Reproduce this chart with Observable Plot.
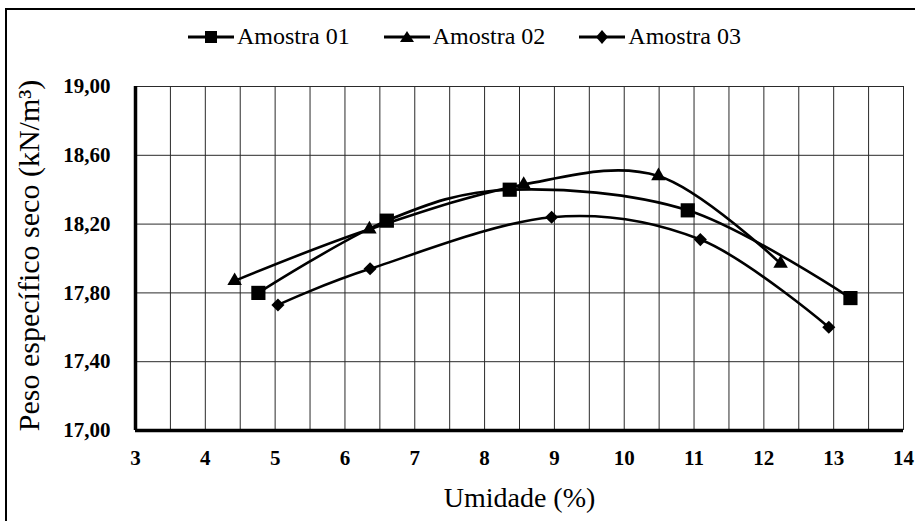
<!DOCTYPE html>
<html>
<head>
<meta charset="utf-8">
<script src="https://cdn.jsdelivr.net/npm/d3@7"></script>
<script src="https://cdn.jsdelivr.net/npm/@observablehq/plot@0.6"></script>
<style>
  html, body { margin: 0; padding: 0; background: #fff; }
  #wrap { position: relative; width: 915px; height: 521px; overflow: hidden; background: #fff;
          font-family: "Liberation Serif", Tinos, "Times New Roman", Times, "DejaVu Serif", serif; }
  #frame { position: absolute; left: 5px; top: 8px; width: 930px; height: 540px;
           border-left: 2px solid #000; border-top: 2px solid #000; }
  #legend { position: absolute; left: 188px; top: 23px; display: flex; gap: 34px; align-items: center;
            font-size: 24px; color: #000; white-space: nowrap; }
  .item { display: flex; align-items: center; }
  .item svg { display: block; margin-right: 3px; }
  #chart { position: absolute; left: 0; top: 0; }
  #chart text { font-family: "Liberation Serif", Tinos, "Times New Roman", Times, "DejaVu Serif", serif; }
</style>
</head>
<body>
<div id="wrap">
  <div id="frame"></div>
  <div id="chart"></div>
  <div id="legend"></div>
</div>
<script>
// ---- data ----
const series = ["Amostra 01", "Amostra 02", "Amostra 03"];
const symbols = ["square", "triangle", "diamond2"];

const umidade01 = [4.76, 6.60, 8.36, 10.91, 13.24];
const peso01    = [17.80, 18.22, 18.40, 18.28, 17.77];

const umidade02 = [4.42, 6.35, 8.56, 10.49, 12.24];
const peso02    = [17.87, 18.17, 18.43, 18.48, 17.97];

const umidade03 = [5.04, 6.36, 8.96, 11.09, 12.93];
const peso03    = [17.73, 17.94, 18.24, 18.11, 17.60];

const xTicks = [3, 4, 5, 6, 7, 8, 9, 10, 11, 12, 13, 14];
const xGrid  = [3, 3.5, 4, 4.5, 5, 5.5, 6, 6.5, 7, 7.5, 8, 8.5, 9, 9.5, 10, 10.5, 11, 11.5, 12, 12.5, 13, 13.5, 14];
const yTicks = [17.0, 17.4, 17.8, 18.2, 18.6, 19.0];

const xLabel = "Umidade (%)";
const yLabel = "Peso específico seco (kN/m³)";

// ---- build rows ----
const xs = [umidade01, umidade02, umidade03];
const ys = [peso01, peso02, peso03];
const rowsBySerie = series.map((s, i) => xs[i].map((x, j) => ({serie: s, umidade: x, peso: ys[i][j]})));
const rows = rowsBySerie.flat();
const dotR = [8, 5.4, 5.9];

const fmtY = d => d.toFixed(2).replace(".", ",");
const FONT = "'Liberation Serif', Tinos, 'Times New Roman', Times, 'DejaVu Serif', serif";

const chart = Plot.plot({
  width: 915,
  height: 521,
  marginLeft: 135,
  marginRight: 12,
  marginTop: 86,
  marginBottom: 91,
  x: {domain: [3, 14]},
  y: {domain: [17, 19]},
  style: {fontFamily: FONT, background: "transparent", color: "#000", overflow: "visible"},
  marks: [
    Plot.ruleX(xGrid, {stroke: "#2a2a2a", strokeWidth: 1}),
    Plot.ruleY(yTicks, {stroke: "#2a2a2a", strokeWidth: 1}),
    Plot.ruleX([3], {stroke: "#000", strokeWidth: 3.5}),
    Plot.ruleY([17], {stroke: "#000", strokeWidth: 3.5, x1: 3, x2: 14}),
    Plot.axisX({ticks: xTicks, tickSize: 0, tickPadding: 20, fontSize: 21, fontWeight: "bold", label: null, tickFormat: d => String(d)}),
    Plot.axisY({ticks: yTicks, tickSize: 0, tickPadding: 25, fontSize: 21, fontWeight: "bold", label: null, tickFormat: fmtY}),
    Plot.line(rows, {x: "umidade", y: "peso", z: "serie", curve: "cardinal", stroke: "#000", strokeWidth: 2.6}),
    ...rowsBySerie.map((r, i) => Plot.dot(r, {x: "umidade", y: "peso", symbol: () => symbols[i], fill: "#000", stroke: "none", r: dotR[i]})),
    Plot.text([xLabel], {frameAnchor: "bottom", textAnchor: "middle", lineAnchor: "middle", dy: 68, fontSize: 28, fill: "#000"}),
    Plot.text([yLabel], {frameAnchor: "left", textAnchor: "middle", lineAnchor: "middle", dx: -106, dy: -3, rotate: -90, fontSize: 30, fill: "#000"})
  ],
  symbol: {domain: series, range: symbols}
});
document.getElementById("chart").appendChild(chart);

// ---- legend ----
const legend = document.getElementById("legend");
const markerPath = {
  "square": "M-6,-6H6V6H-6Z",
  "triangle": "M0,-6L7,5H-7Z",
  "diamond2": "M0,-7L6,0L0,7L-6,0Z"
};
series.forEach((s, i) => {
  const item = document.createElement("div");
  item.className = "item";
  item.innerHTML = `<svg width="46" height="20" viewBox="-23 -10 46 20">
      <line x1="-23" x2="23" y1="0" y2="0" stroke="#000" stroke-width="3"/>
      <path d="${markerPath[symbols[i]]}" fill="#000"/>
    </svg><span>${s}</span>`;
  legend.appendChild(item);
});
</script>
</body>
</html>
